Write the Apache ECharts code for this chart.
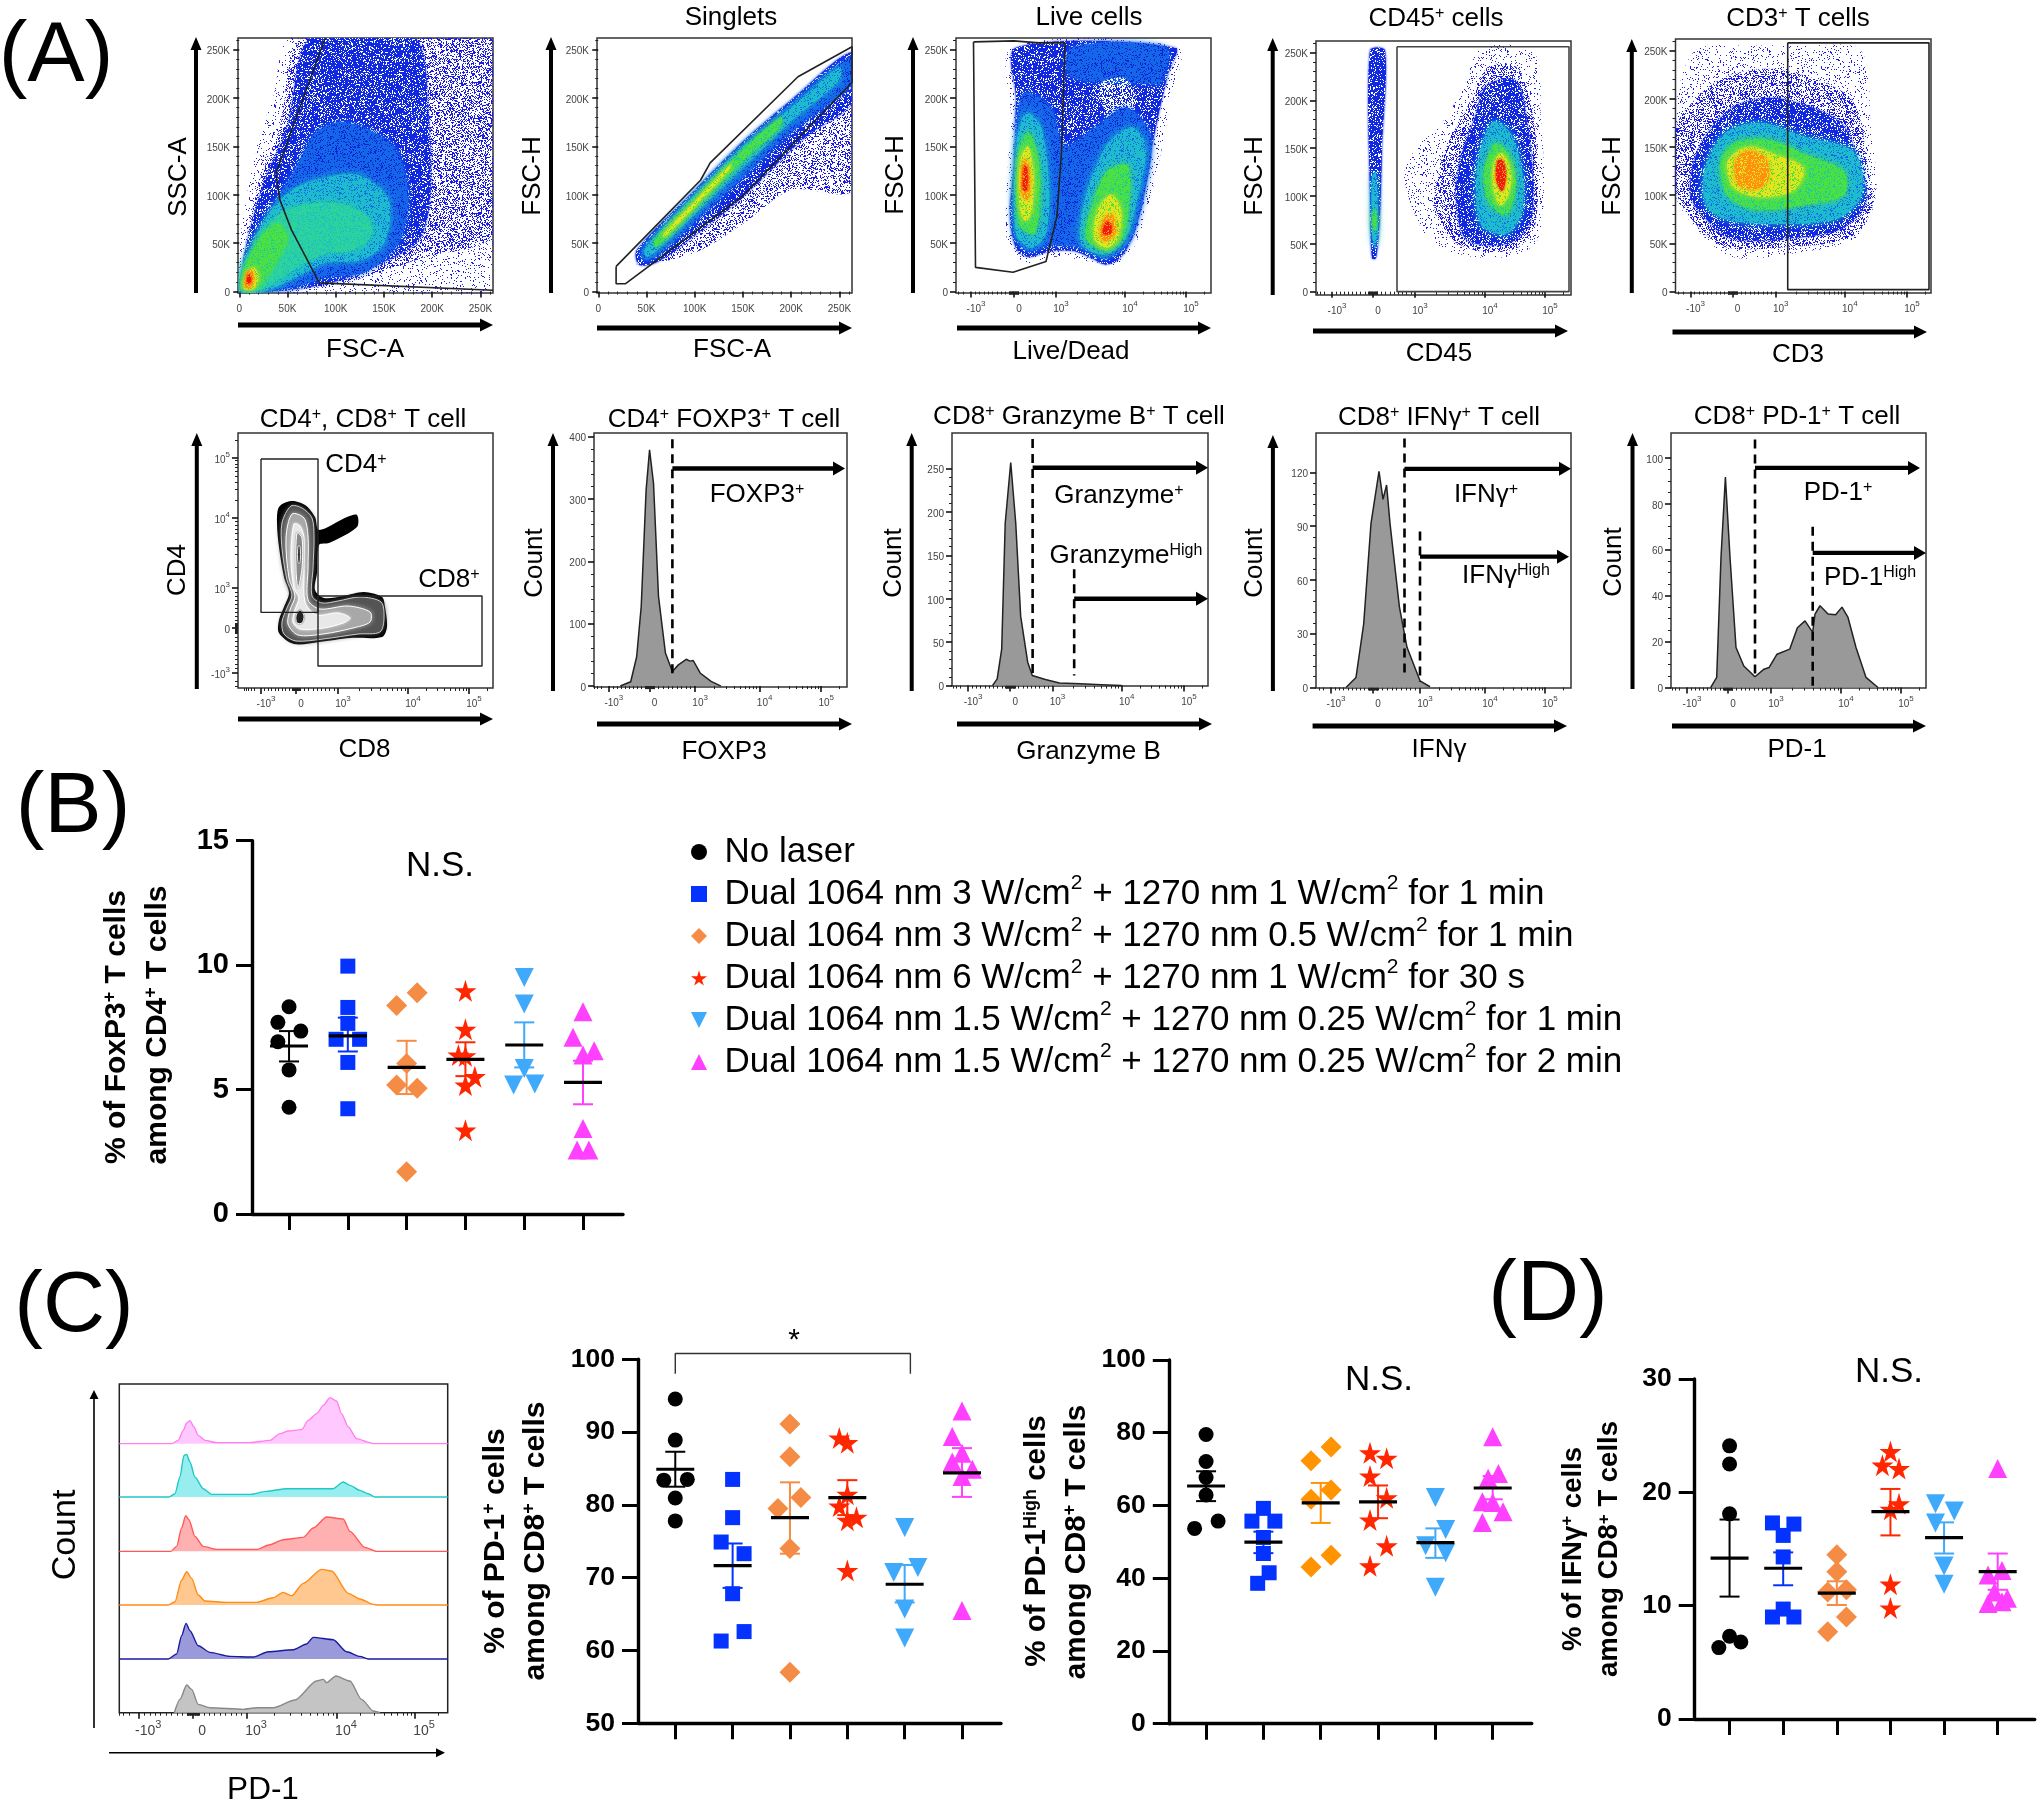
<!DOCTYPE html>
<html><head><meta charset="utf-8">
<style>html,body{margin:0;padding:0;background:#fff}#c{width:2040px;height:1803px}</style>
<script src="https://cdn.jsdelivr.net/npm/echarts@6/dist/echarts.min.js"></script>
</head><body><div id="c"></div>
<script>
// ---------- treatment groups ----------
const groupNames = ['No laser',
 'Dual 1064 nm 3 W/cm^{2} + 1270 nm 1 W/cm^{2} for 1 min',
 'Dual 1064 nm 3 W/cm^{2} + 1270 nm 0.5 W/cm^{2} for 1 min',
 'Dual 1064 nm 6 W/cm^{2} + 1270 nm 1 W/cm^{2} for 30 s',
 'Dual 1064 nm 1.5 W/cm^{2} + 1270 nm 0.25 W/cm^{2} for 1 min',
 'Dual 1064 nm 1.5 W/cm^{2} + 1270 nm 0.25 W/cm^{2} for 2 min'];
// points: [jitter in group widths, value]; summary: [mean, low, high]
const foxp3Points = [
 [[0,8.33],[-.19,7.7],[.2,7.35],[-.19,6.92],[0,5.79],[0,4.29]],
 [[0,9.96],[0,8.3],[0,7.66],[-.2,7.02],[.2,7.02],[0,6.09],[0,4.23]],
 [[.18,8.89],[-.17,8.38],[0,6.05],[-.17,5.18],[.18,5.05],[0,1.7]],
 [[0,8.97],[0,7.42],[-.12,6.39],[0,6.36],[.16,5.52],[0,5.18],[0,3.37]],
 [[0,9.5],[0,8.44],[0,5.85],[-.18,5.18],[.18,5.22]],
 [[0,8.13],[-.17,7.1],[.19,6.56],[0,6.39],[0,3.44],[-.1,2.57],[.1,2.57]]];
const foxp3Summary = [[6.75,6.13,7.35],[7.16,6.53,7.89],[5.89,4.82,6.96],[6.21,5.54,6.9],[6.79,5.89,7.7],[5.29,4.41,6.16]];
const pd1Points = [
 [[0,94.55],[0,88.9],[-.2,83.4],[.21,83.5],[0,80.95],[0,77.8]],
 [[0,83.5],[0,78.25],[-.2,74.9],[.2,73.3],[0,67.8],[.2,62.6],[-.2,61.3]],
 [[0,91.1],[0,86.6],[.19,81],[-.21,79.5],[0,74],[0,57]],
 [[-.14,89.2],[0,88.55],[0,81.45],[-.14,79.85],[.16,78.3],[0,77.9],[0,71]],
 [[0,76.9],[-.19,70.7],[.23,71.4],[0,65.7],[0,61.7]],
 [[0,92.9],[-.17,89.4],[0,87.1],[-.17,85.9],[.18,84.9],[0,83.9],[0,65.5]]];
const pd1Summary = [[84.9,82.5,87.3],[71.66,68.6,74.7],[78.25,73.3,83.1],[81,78.6,83.4],[69.1,66.6,71.75],[84.4,81.1,87.8]];
const pd1HighPoints = [
 [[0,79.5],[0,72.1],[0,67.7],[0,62.9],[.21,55.7],[-.2,53.7]],
 [[0,59.2],[-.2,55.7],[.2,55.7],[0,51.2],[0,46.8],[.1,41.5],[-.1,38.6]],
 [[.18,76.1],[-.17,72.3],[.18,64.25],[-.17,61.7],[.18,46.3],[-.17,43.1]],
 [[-.14,74.5],[.15,73],[-.14,68.1],[.15,62.1],[-.14,56],[.15,48.9],[-.14,43.4]],
 [[0,62.2],[.18,53.4],[-.17,48.9],[.18,47],[0,37.5]],
 [[0,78.9],[.1,68.8],[-.08,67.5],[-.18,61],[0,60.8],[.18,58.3],[-.18,55.3]]];
const pd1HighSummary = [[65.35,61.2,69.4],[49.9,46.9,52.8],[60.7,55.2,66.2],[61,56.5,65.5],[49.8,45.6,53.7],[64.8,61.7,68.1]];
const ifnPoints = [
 [[0,24.1],[0,22.5],[0,18.1],[0,7.3],[.21,6.8],[-.2,6.3]],
 [[-.2,17.3],[.2,17.2],[0,16.2],[0,14.3],[0,9.7],[-.2,9],[.2,9]],
 [[0,14.5],[0,13],[-.17,11.2],[.18,11.4],[.18,9],[-.17,7.7]],
 [[0,23.6],[-.15,22.4],[.16,22.1],[.16,19],[0,18.5],[0,11.9],[0,9.8]],
 [[-.16,19],[.19,18.35],[-.16,17.3],[0,13.5],[0,11.9]],
 [[0,22.1],[.08,13.1],[-.18,12.7],[-.06,11.2],[.18,10.65],[-.18,10.2],[.08,10.35]]];
const ifnSummary = [[14.2,10.8,17.6],[13.3,11.8,14.7],[11.1,10.06,12.15],[18.3,16.2,20.3],[16,14.6,17.35],[13,11.4,14.6]];
const sigBracket = [[0,98],[0,100.8],[4.1,100.8],[4.1,98]];

// ---------- axis labels of the cytometry plots ----------
const linTicks = [0,50,100,150,200,250];
const linLabels = ['0','50K','100K','150K','200K','250K'];
const biexLabels = ['-10^3','0','10^3','10^4','10^5'];

// ---------- gates (scatter units K / biexponential channels) ----------
const p1Gate = [[89,262],[38,122],[42,95],[54,64],[83,9],[263,1.4]];
const p2Gate = [[18.5,26],[18.5,8],[28,8],[149,98],[263,216],[263,253],[207,222],[116,133],[106,115],[18.5,26]];
const p3Gate = [[17.5,258],[57.7,259],[83,257],[109,257],[105.6,146],[101,78],[90,31],[57,20],[19.5,25],[17.5,258]];
const p4Gate = [[81,256],[253,256],[253,0],[81,0],[81,256]];
const p5Gate = [[112,258],[253,258],[253,2],[112,2],[112,258]];
const p6GateCD4 = [[23,229],[80,229],[80,75.6],[23,75.6],[23,229]];
const p6GateCD8 = [[80,92],[244,92],[244,22],[80,22],[80,92]];

// ---------- density contours: [level, outline] ----------
const p1Contours = [
 [16,[[0,0],[0,45],[8,100],[18,150],[35,200],[55,263],[263,263],[263,0],[150,0]]],
 [0,[[4,0],[5,40],[20,110],[42,170],[68,263],[263,263],[263,60],[190,35],[120,12],[80,4],[30,0]]],
 [1,[[5,0],[6,40],[25,110],[50,170],[75,263],[180,263],[195,200],[190,60],[120,18],[80,6],[30,0]]],
 [2,[[1,0],[5,30],[30,80],[60,130],[80,165],[110,175],[160,150],[175,100],[165,50],[130,20],[90,15],[60,5],[20,0]]],
 [3,[[2,0],[5,30],[30,80],[55,105],[90,118],[125,120],[155,95],[150,50],[125,32],[90,30],[60,15],[25,0]]],
 [4,[[2,2],[5,25],[25,60],[42,80],[70,90],[110,90],[135,75],[135,55],[115,42],[90,40],[60,25],[25,3]]],
 [5,[[3,3],[6,25],[25,60],[40,70],[50,55],[38,30],[20,5]]],
 [6,[[5,3],[7,18],[15,25],[20,15],[15,3]]],
 [7,[[6,5],[8,20],[13,22],[15,10],[11,4]]],
 [8,[[8,8],[9,17],[12,18],[12,10]]]];
const p2Contours = [
 [0,[[40,28],[100,40],[150,70],[200,105],[263,105],[263,240],[215,200],[150,150],[100,100],[50,45]]],
 [1,[[40,43],[100,105],[150,155],[200,198],[263,247],[263,195],[215,160],[150,98],[100,58],[60,30],[42,28]]],
 [2,[[45,43],[100,102],[150,152],[200,194],[263,243],[263,215],[200,165],[150,118],[100,72],[60,36],[47,33]]],
 [3,[[48,44],[100,100],[150,150],[200,190],[250,232],[250,218],[200,176],[150,128],[100,80],[60,42],[50,36]]],
 [5,[[58,52],[100,96],[150,146],[190,180],[188,170],[150,135],[100,85],[60,46]]],
 [6,[[68,60],[100,93],[138,132],[135,125],[100,88],[68,56]]]];
const p3Contours = [
 [16,[[56,252],[222,252],[215,200],[200,120],[180,50],[160,28],[140,30],[100,36],[70,30],[52,50],[50,90],[55,180]]],
 [1,[[60,252],[219,252],[212,225],[204,190],[196,150],[188,100],[178,60],[165,36],[150,28],[135,35],[118,42],[95,42],[72,36],[60,45],[54,80],[58,130],[60,200]]],
 [2,[[115,252],[210,252],[205,215],[195,215],[115,222]]],
 [9,[[145,215],[150,185],[165,178],[180,195],[170,220]]],
 [2,[[58,60],[60,160],[68,205],[95,190],[108,150],[140,170],[170,190],[195,160],[186,90],[172,50],[150,34],[128,45],[95,48],[72,42]]],
 [3,[[60,60],[60,150],[70,185],[85,170],[93,110],[90,60],[75,45]]],
 [3,[[125,50],[130,100],[150,150],[175,170],[190,150],[180,90],[170,55],[150,38]]],
 [5,[[63,70],[62,140],[72,165],[82,140],[84,90],[78,60]]],
 [5,[[130,55],[138,95],[152,125],[172,130],[172,80],[165,52],[150,42]]],
 [6,[[64,85],[64,135],[72,150],[78,120],[76,85],[70,72]]],
 [6,[[138,55],[142,85],[155,100],[165,85],[162,55],[150,45]]],
 [7,[[66,100],[66,130],[70,138],[74,120],[72,95]]],
 [7,[[144,58],[148,75],[156,80],[160,62],[150,52]]],
 [8,[[67,105],[68,130],[71,128],[71,105]]],
 [8,[[147,60],[150,72],[155,70],[155,60]]]];
const p4Contours = [
 [16,[[88,120],[108,60],[125,45],[160,36],[200,38],[222,55],[228,110],[225,180],[218,250],[165,254],[148,215],[125,175],[100,150]]],
 [0,[[118,90],[135,55],[165,42],[200,45],[218,65],[222,120],[216,190],[200,235],[172,235],[150,190],[130,150]]],
 [1,[[150,55],[140,100],[145,140],[160,185],[170,215],[200,220],[212,170],[217,110],[213,70],[190,50]]],
 [3,[[165,70],[160,115],[165,150],[178,178],[195,165],[207,120],[205,80],[190,60]]],
 [5,[[172,95],[168,125],[180,155],[195,140],[200,110],[190,80]]],
 [6,[[177,110],[178,135],[186,145],[195,125],[192,100],[184,90]]],
 [8,[[180,118],[182,138],[187,137],[190,120],[186,105]]],
 [1,[[54,252],[69,252],[66,150],[64,80],[60,35],[56,35],[54,100]]],
 [3,[[56,60],[56,120],[60,125],[62,65],[59,45]]],
 [5,[[57,65],[57,85],[60,85],[60,65]]]];
const p5Contours = [
 [16,[[0,100],[0,190],[20,250],[80,255],[130,255],[185,250],[195,170],[200,100],[180,55],[120,40],[60,35],[30,55]]],
 [0,[[0,105],[0,170],[25,205],[55,225],[105,230],[175,200],[192,130],[196,85],[172,55],[110,46],[50,46],[20,70]]],
 [1,[[15,100],[20,140],[40,175],[65,195],[105,200],[165,175],[185,125],[190,92],[165,65],[110,55],[55,55],[28,78]]],
 [3,[[30,90],[30,130],[50,165],[85,175],[130,160],[178,145],[186,100],[160,75],[100,70],[50,75]]],
 [5,[[52,100],[45,135],[60,155],[95,157],[130,142],[168,125],[168,100],[130,90],[80,85]]],
 [6,[[58,108],[52,135],[72,150],[100,142],[128,128],[118,105],[85,98]]],
 [7,[[62,112],[60,135],[72,146],[90,138],[92,115],[78,106]]]];
const p6Contours = [
 [10,[[53,187],[41,181],[39,165],[41,141],[46,111],[51,95],[46,81],[41,68],[41,55],[56,44],[81,46],[112,50],[144,51],[149,61],[147,81],[144,91],[126,96],[105,92],[86,90],[77,98],[79,115],[81,143],[91,145],[119,161],[119,173],[109,171],[81,158],[77,171],[67,183]]],
 [11,[[53,182],[44,165],[44,140],[49,108],[54,93],[49,80],[44,66],[46,54],[58,47],[85,49],[120,54],[142,56],[146,70],[143,86],[122,91],[100,87],[84,85],[74,92],[75,120],[76,150],[74,170],[64,180]]],
 [12,[[54,174],[48,150],[51,110],[57,92],[52,78],[50,64],[60,53],[85,54],[115,60],[132,66],[132,76],[110,82],[82,79],[70,88],[70,120],[70,152],[66,170]]],
 [13,[[56,164],[53,130],[56,100],[61,90],[57,78],[55,66],[62,59],[85,60],[105,65],[112,70],[100,75],[78,73],[67,86],[66,115],[66,150],[62,162]]],
 [14,[[59,155],[58,120],[60,100],[64,120],[64,150]]],
 [15,[[59,65],[58,72],[62,78],[66,72],[64,65]]],
 [15,[[60,125],[60,142],[62,142],[62,125]]]];

// ---------- histograms: [channel, count] ----------
const foxp3Hist = [[26.5,0],[37,7],[43,47],[47.6,128],[52.5,314],[56,379],[60,325],[65,144],[72,53],[79,23.5],[85,34],[93,43],[96.7,40],[100,41],[107,21],[118,7.5],[128,0]];
const gzmbHist = [[40.3,0],[45,7.7],[49.5,42],[53,187],[58.5,257],[63.5,187],[68.4,80],[75.4,27],[80,11.5],[93,7],[107,3],[128,2],[149,1],[169,0]];
const ifnHist = [[30,0],[40,5.6],[47.7,35.5],[55,91.6],[63,120.6],[67,105],[70.6,113],[74,91.6],[83.4,45],[91,22.4],[104,3.7],[114,0.4]];
const pd1Hist = [[39.6,0],[45.7,4.4],[50,56.7],[54.4,91.6],[59,56.7],[65,17.4],[72.8,9.4],[84,4.7],[93,8],[98,8.7],[106,14.5],[118.7,16.7],[126.4,26],[134,29],[141.7,24],[144,32],[149,35.6],[157,32],[164.6,31.7],[171,35],[177,30.5],[185,17.4],[195,4.4],[207,0]];
// overlay of panel C, bottom to top: [channel, height]
const ridgeGray = [[42.7,0],[47.1,40],[52.3,83],[56.2,70],[61.3,25],[70.4,15],[96.3,10],[106.6,15],[119.6,15],[136.4,38],[153.2,95],[158.4,100],[161,90],[168.2,110],[179.1,95],[188.1,40],[197.2,5],[202.4,0]];
const ridgeNavy = [[0,0],[38,0],[44.5,15],[48.4,70],[51.8,107],[54.9,85],[61.3,40],[70.4,20],[85.9,8],[104,6],[115.7,22],[135.1,28],[145.4,45],[150.6,65],[166.1,58],[176.5,22],[186.8,8],[193.3,0],[255,0]];
const ridgeOrange = [[0,0],[38,0],[43.2,10],[48.4,75],[52.3,100],[56.2,80],[61.3,30],[66.5,12],[83.3,8],[106.6,8],[119.6,22],[127.3,38],[133.8,28],[142.9,65],[157.1,107],[164.9,102],[177.8,35],[186.8,18],[197.2,2],[201.1,0],[255,0]];
const ridgeRed = [[0,0],[40.1,0],[44.5,15],[48.4,70],[51.5,107],[54.1,95],[58.7,45],[65.2,15],[75.6,6],[106.6,6],[117,20],[127.3,35],[142.9,42],[150.6,70],[161,103],[173.9,97],[179.1,60],[190.7,12],[199.8,0],[255,0]];
const ridgeTeal = [[0,0],[38.6,0],[43.2,10],[47.1,60],[50.2,125],[52.3,128],[54.9,105],[58.7,60],[65.2,25],[71.7,8],[101.4,8],[114.4,17],[129.9,25],[145.4,25],[166.1,25],[173.9,45],[179.1,35],[186.8,20],[193.3,10],[198.5,0],[255,0]];
const ridgePink = [[0,0],[40.6,0],[45.8,10],[49.7,40],[52.3,62],[54.9,69],[58,50],[61.3,25],[66.5,10],[75.6,3],[101.4,3],[117,10],[124.7,30],[131.2,38],[141.6,42],[146.7,70],[153.2,90],[158.4,115],[163.6,138],[168.7,128],[172.6,90],[177.8,50],[184.3,15],[194.6,3],[197.2,0],[255,0]];
const ridgeRows = [[0,ridgeGray],[161,ridgeNavy],[323,ridgeOrange],[484,ridgeRed],[647,ridgeTeal],[807,ridgePink]];

// ---------- styles ----------
const FF = '"Liberation Sans",Arial,sans-serif';
const groupColors = ['#000000','#0433ff','#f58c45','#ff2600','#3fa9fb','#ff40ff'];
const pd1HighColors = ['#000000','#0433ff','#ff9300','#ff2600','#3fa9fb','#ff40ff'];
const STAR = 'path://M50,0 L61,35 98,35 68,57 79,91 50,70 21,91 32,57 2,35 39,35 Z';
const TRI_DOWN = 'path://M0,0 L100,0 50,100 Z';
const groupSymbols = [['circle',15,0],['rect',15,0],['diamond',21,0],[STAR,22,0],['triangle',19,180],['triangle',19,0]];
const series=[], grids=[], xAxes=[], yAxes=[], gfx=[];

// grainy fill texture for the density levels (style only, no data)
function grain(bg,dot,frac,salt){
  const n=131,cv=document.createElement('canvas');cv.width=cv.height=n;
  const g=cv.getContext('2d');
  if(bg){g.fillStyle=bg;g.fillRect(0,0,n,n);}
  g.fillStyle=dot;
  const h=v=>{const s=Math.sin(v)*43758.5453;return s-Math.floor(s);};
  const cnt=Math.round(n*n*frac);
  for(let i=0;i<cnt;i++){g.fillRect(Math.floor(n*h(i*12.9898+salt)),Math.floor(n*h(i*78.233+salt*2)),1,1);}
  return {image:cv,repeat:'repeat'};
}
const levelStyles = [
 {fill:grain(null,'#1a1ae6',.38,1),blur:0},
 {fill:grain('#1028e0','#ffffff',.24,2),blur:2,shadow:'#1028e0'},
 {fill:grain('#1468e8','#0c20d8',.22,3),blur:6,shadow:'#1468e8'},
 {fill:grain('#1cbccc','#1468e8',.2,4),blur:7,shadow:'#1cbccc'},
 {fill:grain('#2cd49c','#1cbccc',.25,5),blur:7,shadow:'#2cd49c'},
 {fill:grain('#4ce040','#1cc8a0',.22,6),blur:6,shadow:'#4ce040'},
 {fill:grain('#e4e41c','#4ce040',.24,7),blur:5,shadow:'#e4e41c'},
 {fill:grain('#ff9010','#e4e41c',.25,8),blur:4,shadow:'#ff9010'},
 {fill:grain('#f01c10','#ff9010',.2,9),blur:3,shadow:'#f01c10'},
 {fill:grain(null,'#ffffff',.5,10),blur:0},
 {fill:'#000',blur:0},
 {fill:'#555',blur:5,shadow:'#555',stroke:'#ccc'},
 {fill:'#a8a8a8',blur:5,shadow:'#a8a8a8',stroke:'#fff'},
 {fill:'#e8e8e8',blur:3,shadow:'#e8e8e8',stroke:'#fff'},
 {fill:'#8a8a8a',blur:2,shadow:'#8a8a8a',stroke:'#fff'},
 {fill:'#222',blur:1,shadow:'#222',stroke:'#fff'},
 {fill:grain(null,'#2020e0',.1,11),blur:0}];

function richOf(str,size,bold,lh){
  const parts=str.split(/(\^\{[^}]*\})/).filter(Boolean);
  const text=parts.map(p=>p.startsWith('^{')?`{s|${p.slice(2,-1)}}`:`{b|${p}}`).join('');
  const w=bold?'bold':'normal', L=lh||Math.round(size*1.02);
  return {text,rich:{
    b:{fontSize:size,fontFamily:FF,fontWeight:w,fill:'#000',color:'#000',lineHeight:L,verticalAlign:'middle'},
    s:{fontSize:Math.round(size*.6),fontFamily:FF,fontWeight:w,fill:'#000',color:'#000',lineHeight:L,verticalAlign:'top'}}};
}
function txt(x,y,str,size,o={}){
  const r=richOf(str,size,o.bold);
  const nudge=o.nudge??3;
  gfx.push({type:'text',x:o.rot?x+nudge:x,y:o.rot?y:y+nudge,rotation:o.rot?Math.PI/2:0,silent:true,z:50,
    style:{text:r.text,rich:r.rich,align:'center',verticalAlign:'middle',fontFamily:FF,fontSize:size}});
}
function arrowH(x1,x2,y,t,hw,hl){
  gfx.push({type:'polygon',silent:true,z:40,shape:{points:[[x1,y-t/2],[x2-hl,y-t/2],[x2-hl,y-hw],[x2,y],[x2-hl,y+hw],[x2-hl,y+t/2],[x1,y+t/2]]},style:{fill:'#000'}});
}
function arrowV(x,y1,y2,t,hw,hl){
  gfx.push({type:'polygon',silent:true,z:40,shape:{points:[[x-t/2,y1],[x-t/2,y2+hl],[x-hw,y2+hl],[x,y2],[x+hw,y2+hl],[x+t/2,y2+hl],[x+t/2,y1]]},style:{fill:'#000'}});
}
function addGrid(left,top,right,bottom,show){
  grids.push({left,top,width:right-left,height:bottom-top,show:!!show,borderColor:'#333',borderWidth:1.5,backgroundColor:'transparent'});
  return grids.length-1;
}
function biexMinor(m){
  const out=[],z=m[1],d=(m[2]-z),n=(z-m[0]);
  for(let k=1;k<10;k++){out.push(z+d*k/10,z-n*k/10,z+d*k/100*1.2,z-n*k/100*1.2);}
  const logs=[2,3,4,5,6,7,8,9].map(Math.log10);
  logs.forEach(l=>{out.push(m[2]+(m[3]-m[2])*l,m[3]+(m[4]-m[3])*l,m[4]+(m[4]-m[3])*l);});
  for(let k=2;k<7;k++)out.push(m[0]-n*(Math.log10(k))*.6);
  return out.filter(v=>v>0&&v<255);
}
function supFmt(label){
  if(label.includes('^')){const[a,b]=label.split('^');return `{b|${a}}{s|${b}}`;}
  return `{b|${label}}`;
}
const tinyRich=(sz,col)=>({b:{fontSize:sz,fontFamily:FF,color:col,lineHeight:sz+4,verticalAlign:'bottom'},s:{fontSize:Math.round(sz*.8),fontFamily:FF,color:col,lineHeight:sz+4,verticalAlign:'top'}});
function axisPair(arr,g,pos,min,max,maj,labels,minor,shift,sz){
  const col='#444';
  const lab=new Map(maj.map((v,i)=>[v+shift,labels[i]]));
  const base={gridIndex:g,type:'value',min,max,position:pos,splitLine:{show:false},axisLine:{show:false}};
  arr.push({...base,axisTick:{show:true,customValues:maj,length:6,lineStyle:{color:'#111',width:1.6}},
    axisLabel:{show:true,customValues:maj.map(v=>v+shift),margin:pos==='bottom'?7:8,color:col,fontSize:sz,fontFamily:FF,
      formatter:v=>supFmt(lab.get(v)??''),rich:tinyRich(sz,col)}});
  arr.push({...base,axisTick:{show:true,customValues:minor,length:3,lineStyle:{color:'#222',width:1}},axisLabel:{show:false}});
}
function flowPlot(box,xCfg,yCfg){
  const g=addGrid(box[0],box[1],box[2],box[3],true);
  axisPair(xAxes,g,'bottom',xCfg.min,xCfg.max,xCfg.maj,xCfg.labels,xCfg.minor,xCfg.shift||0,xCfg.sz||10);
  axisPair(yAxes,g,'left',yCfg.min,yCfg.max,yCfg.maj,yCfg.labels,yCfg.minor,0,yCfg.sz||10);
  return xAxes.length-2;
}
function every(step,max,skip){const o=[];for(let v=0;v<=max;v+=step)if(v%skip)o.push(v);return o;}
const linX=()=>({min:-1.3,max:263,maj:linTicks,labels:linLabels,minor:every(10,260,50)});
const linY=()=>({min:-1.5,max:262,maj:linTicks,labels:linLabels,minor:every(10,260,50)});
const biexX=m=>({min:0,max:255,maj:m,labels:biexLabels,minor:biexMinor(m),shift:5});
const countY=(max,step,minorStep,bottom)=>{const maj=[];for(let v=0;v<=max;v+=step)maj.push(v);return {min:bottom,max,maj,labels:maj.map(String),minor:every(minorStep,max,step)};};

function contourSeries(ax,contours){
  series.push({type:'custom',xAxisIndex:ax,yAxisIndex:ax,clip:true,silent:true,z:2,data:contours.map((_,i)=>[i]),
    renderItem(p,api){
      const [lv,pts]=contours[api.value(0)],st=levelStyles[lv];
      return {type:'polygon',shape:{points:pts.map(c=>api.coord(c)),smooth:.3},
        style:{fill:st.fill,stroke:st.stroke||null,lineWidth:st.stroke?1:0,shadowBlur:st.blur,shadowColor:st.shadow||'transparent'}};
    }});
}
function lineSeries(ax,data,color,width,type,z){
  series.push({type:'line',xAxisIndex:ax,yAxisIndex:ax,data,symbol:'none',showSymbol:false,silent:true,clip:false,z:z||5,
    lineStyle:{color,width,type:type||'solid',cap:'butt'}});
}
function histSeries(ax,data){
  series.push({type:'line',xAxisIndex:ax,yAxisIndex:ax,data,symbol:'none',showSymbol:false,silent:true,z:3,
    lineStyle:{color:'#222',width:1.5},areaStyle:{color:'#999',opacity:1,origin:0}});
}
function gateArrow(ax,x1,x2,y){
  series.push({type:'custom',xAxisIndex:ax,yAxisIndex:ax,silent:true,z:6,data:[[x1,y,x2]],
    renderItem(p,api){
      const a=api.coord([api.value(0),api.value(1)]),b=api.coord([api.value(2),api.value(1)]);
      const t=2.2,hw=7,hl=12;
      return {type:'polygon',shape:{points:[[a[0],a[1]-t],[b[0]-hl,a[1]-t],[b[0]-hl,a[1]-hw],[b[0],a[1]],[b[0]-hl,a[1]+hw],[b[0]-hl,a[1]+t],[a[0],a[1]+t]]},style:{fill:'#000'}};
    }});
}
function dash(ax,x,y1,y2){lineSeries(ax,[[x,y1],[x,y2]],'#000',2.6,[9,6],6);}

// ---------- row 1 ----------
let ax;
ax=flowPlot([238,38,493,293],linX(),linY()); contourSeries(ax,p1Contours); lineSeries(ax,p1Gate,'#222',1.6);
ax=flowPlot([597,38,852,293],linX(),linY()); contourSeries(ax,p2Contours); lineSeries(ax,p2Gate,'#222',1.6);
ax=flowPlot([956,38,1211,293],biexX([15,58,100,169,230]),linY()); contourSeries(ax,p3Contours); lineSeries(ax,p3Gate,'#222',1.6);
ax=flowPlot([1316,41,1571,295],biexX([16,57,99,169,229]),{...linY(),min:-3.5}); contourSeries(ax,p4Contours); lineSeries(ax,p4Gate,'#444',1.6);
ax=flowPlot([1675.5,39,1931,293],biexX([15,57,100,169,231]),linY()); contourSeries(ax,p5Contours); lineSeries(ax,p5Gate,'#222',1.6);

// ---------- row 2 ----------
const p6Y={min:0,max:255,maj:[15,60,100,170,230],labels:['-10^3','0','10^3','10^4','10^5'],minor:biexMinor([15,60,100,170,230])};
ax=flowPlot([238,433,493,688],biexX([23,58,100,170,231]),p6Y); contourSeries(ax,p6Contours); lineSeries(ax,p6GateCD4,'#222',1.4,null,4); lineSeries(ax,p6GateCD8,'#222',1.4,null,4);
ax=flowPlot([594,433,847,687],biexX([15,56,102,167,229]),countY(400,100,20,-1.5)); yAxes[ax].max=406; yAxes[ax+1].max=406;
histSeries(ax,foxp3Hist); dash(ax,79,396,15); gateArrow(ax,79,253,349);
ax=flowPlot([952,433,1208,686],biexX([16,58,100,169,231]),countY(250,50,10,-0.5)); yAxes[ax].max=291; yAxes[ax+1].max=291;
histSeries(ax,gzmbHist); dash(ax,80.3,284,11.5); dash(ax,121.7,134,11.5); gateArrow(ax,80.3,255,251); gateArrow(ax,121.7,255,100);
ax=flowPlot([1316,433,1571,688],biexX([15,57,104,169,229]),countY(120,30,6,-0.3)); yAxes[ax].max=142; yAxes[ax+1].max=142;
histSeries(ax,ifnHist); dash(ax,88.5,139,5.6); dash(ax,104,87,3); gateArrow(ax,88.5,255,122); gateArrow(ax,104,253,73);
ax=flowPlot([1671,433,1926,688],biexX([16,57,100,170,230]),countY(100,20,5,-0.2)); yAxes[ax].max=110.8; yAxes[ax+1].max=110.8;
histSeries(ax,pd1Hist); dash(ax,84,108,4.7); dash(ax,141.7,70,0); gateArrow(ax,84,249,95.6); gateArrow(ax,141.7,255,58.6);

// ---------- panel C overlay ----------
const ridgeStyle=[['#888','#c4c4c4'],['#1a1aa0','#9a9ada'],['#ff8c14','#ffc890'],['#ff5a5a','#ffb0b0'],['#20c8c8','#98eeee'],['#ff80f0','#ffc8ff']];
{
  const g=addGrid(119.3,1384,447.7,1712.7,true);
  grids[g].borderColor='#222';
  const m=[15.4,57.3,99.2,169,229.6];
  axisPair(xAxes,g,'bottom',0,255,m,biexLabels,biexMinor(m),7,14);
  const a=xAxes.length-2;
  const base={gridIndex:g,type:'value',min:0,max:986,show:false};
  yAxes.push(base,{...base});
  ridgeRows.forEach(([b,d],i)=>{
    series.push({type:'line',xAxisIndex:a,yAxisIndex:a,symbol:'none',showSymbol:false,silent:true,z:3,
      smooth:.25,smoothMonotone:'x',
      data:d.map(([x,h])=>[x,b+h]),
      lineStyle:{color:ridgeStyle[i][0],width:1.4},
      areaStyle:{color:ridgeStyle[i][1],opacity:1,origin:b}});
  });
}

// ---------- dot plots ----------
function dotPanel(box,xr,yr,step,points,summary,labelSize,colors){
  const g=addGrid(box[0],box[1],box[2],box[3],false);
  xAxes.push({gridIndex:g,type:'value',min:xr[0],max:xr[1],position:'bottom',splitLine:{show:false},
    axisLine:{onZero:false,lineStyle:{color:'#000',width:3.4}},
    axisTick:{show:true,customValues:[0,1,2,3,4,5],length:16,lineStyle:{color:'#000',width:3}},axisLabel:{show:false}});
  yAxes.push({gridIndex:g,type:'value',min:yr[0],max:yr[1],interval:step,position:'left',splitLine:{show:false},
    axisLine:{onZero:false,show:true,lineStyle:{color:'#000',width:3.4}},
    axisTick:{show:true,length:16,lineStyle:{color:'#000',width:3}},
    axisLabel:{margin:23,fontFamily:FF,fontWeight:'bold',fontSize:labelSize,color:'#000'}});
  const a=xAxes.length-1;
  points.forEach((pts,i)=>{
    const [sym,size,rot]=groupSymbols[i];
    series.push({name:groupNames[i],type:'scatter',xAxisIndex:a,yAxisIndex:a,symbol:sym,symbolSize:size,symbolRotate:rot,silent:true,z:4,
      itemStyle:{color:colors[i],opacity:1},data:pts.map(([d,v])=>[i+d,v])});
  });
  series.push({type:'custom',xAxisIndex:a,yAxisIndex:a,silent:true,z:7,clip:false,
    data:summary.map((s,i)=>[i,s[0],s[1],s[2]]),
    renderItem(p,api){
      const x=api.value(0),c=api.coord([x,api.value(1)]),lo=api.coord([x,api.value(2)]),hi=api.coord([x,api.value(3)]);
      const col=colors[x];
      const L=(x1,y1,x2,y2,w,s)=>({type:'line',shape:{x1,y1,x2,y2},style:{stroke:s,lineWidth:w}});
      return {type:'group',children:[
        L(c[0],lo[1],c[0],hi[1],2,col),L(c[0]-10,lo[1],c[0]+10,lo[1],2,col),L(c[0]-10,hi[1],c[0]+10,hi[1],2,col),
        L(c[0]-19,c[1],c[0]+19,c[1],3.2,'#000')]};
    }});
  return a;
}
dotPanel([252,840.7,623,1214],[-0.63,5.68],[0,15],5,foxp3Points,foxp3Summary,29,groupColors);
const pd1Axis=dotPanel([638,1359.3,1001,1723.3],[-0.65,5.68],[50,100],10,pd1Points,pd1Summary,26.5,groupColors);
lineSeries(pd1Axis,sigBracket,'#333',1.4,null,8);
dotPanel([1168.8,1360,1531.7,1723.7],[-0.65,5.68],[0,100],20,pd1HighPoints,pd1HighSummary,26.5,pd1HighColors);
dotPanel([1694.7,1379,2034.7,1719],[-0.65,5.69],[0,30],10,ifnPoints,ifnSummary,26.5,groupColors);

// ---------- outer arrows ----------
[[238,493,325],[597,852,328],[957,1211,328],[1313,1568,331],[1672.5,1927,332],
 [238,493,719],[597,852,724],[957,1212,724],[1312.6,1567,726],[1672,1926,726]].forEach(a=>arrowH(a[0],a[1],a[2],5,6.5,13));
[[196,293,37],[551,293,37],[913,293,37],[1272.7,295,38],[1631.8,293,39],
 [196.8,689,433],[553,691,433],[911.7,691,433],[1272.9,691,435],[1632.5,689,433]].forEach(a=>arrowV(a[0],a[1],a[2],4,5.5,13));
arrowV(94,1728,1390,1.6,4.5,9); arrowH(109,445,1752.7,1.6,4.5,9);

// ---------- texts ----------
const S=26;
[['(A)',56,54],['(B)',73,805],['(C)',74,1304],['(D)',1548,1293]].forEach(t=>txt(t[1],t[2],t[0],86));
[['Singlets',731,15],['Live cells',1089,15],['CD45^{+} cells',1436,16],['CD3^{+} T cells',1798,16],
 ['FSC-A',365,347],['FSC-A',732,347],['Live/Dead',1071,349],['CD45',1439,351],['CD3',1798,352],
 ['CD4^{+}, CD8^{+} T cell',363,417],['CD4^{+} FOXP3^{+} T cell',724,417],['CD8^{+} Granzyme B^{+} T cell',1079,414],['CD8^{+} IFNγ^{+} T cell',1439,415],['CD8^{+} PD-1^{+} T cell',1797,414],
 ['CD8',364.5,747],['FOXP3',724,749],['Granzyme B',1088.5,749],['IFNγ',1439,747],['PD-1',1797,747],
 ['CD4^{+}',356,462],['CD8^{+}',449,577],['FOXP3^{+}',757,492],['Granzyme^{+}',1119,493],['Granzyme^{High}',1126,553],
 ['IFNγ^{+}',1486,492],['IFNγ^{High}',1506,573],['PD-1^{+}',1838,490],['PD-1^{High}',1870,575]
].forEach(t=>txt(t[1],t[2],t[0],S));
[['SSC-A',176,177],['FSC-H',530,176],['FSC-H',892.5,175],['FSC-H',1252,176],['FSC-H',1610,176],
 ['CD4',175,570],['Count',531.4,563],['Count',890.6,563],['Count',1251.4,563],['Count',1611,562]
].forEach(t=>txt(t[1],t[2],t[0],S,{rot:true}));
txt(63,1535,'Count',34,{rot:true}); txt(263,1787,'PD-1',31.5);
txt(440,863,'N.S.',35); txt(1379,1377,'N.S.',35); txt(1889,1369,'N.S.',35); txt(794,1338,'*',30);
[['% of FoxP3^{+} T cells',115,1027,30],['among CD4^{+} T cells',156,1025,30],
 ['% of PD-1^{+} cells',494.3,1541,30],['among CD8^{+} T cells',534,1541,30],
 ['% of PD-1^{High} cells',1035.5,1541,29.5],['among CD8^{+} T cells',1075,1542,29.5],
 ['% of IFNγ^{+} cells',1571.7,1549,27.5],['among CD8^{+} T cells',1608,1549,27.5]
].forEach(t=>txt(t[1],t[2],t[0],t[3],{rot:true,bold:true,nudge:1.5}));

// ---------- legend + chart ----------
const legendRich=richOf('x',35,false,42).rich;
const legendItems=groupNames.map((name,i)=>i===4?{name,icon:TRI_DOWN}:{name});
const chart=echarts.init(document.getElementById('c'),null,{renderer:'canvas',width:2040,height:1803});
chart.setOption({
  animation:false,backgroundColor:'#fff',textStyle:{fontFamily:FF},
  grid:grids,xAxis:xAxes,yAxis:yAxes,series,graphic:gfx,
  legend:{show:true,orient:'vertical',left:686,top:826,itemWidth:16,itemHeight:16,itemGap:0,selectedMode:false,
    data:legendItems,align:'left',
    formatter:n=>richOf(n,35,false,42).text,
    textStyle:{fontFamily:FF,fontSize:35,color:'#000',rich:legendRich,lineHeight:42,padding:[0,0,0,12.5]}}
});
</script></body></html>
